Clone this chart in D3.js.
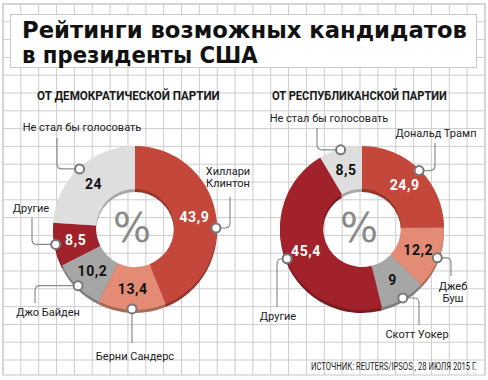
<!DOCTYPE html>
<html>
<head>
<meta charset="utf-8">
<script src="https://cdn.jsdelivr.net/npm/d3@7"></script>
<style>
  body { margin: 0; background: #fff; }
  text { font-family: Roboto, "Liberation Sans", sans-serif; }
</style>
</head>
<body>
<div id="chart"></div>
<script>
// data
const demCategories = ["Хиллари Клинтон", "Берни Сандерс", "Джо Байден", "Другие", "Не стал бы голосовать"];
const demValues = [43.9, 13.4, 10.2, 8.5, 24];
const repCategories = ["Дональд Трамп", "Джеб Буш", "Скотт Уокер", "Другие", "Не стал бы голосовать"];
const repValues = [24.9, 12.2, 9, 45.4, 8.5];
const titleLines = ["Рейтинги возможных кандидатов", "в президенты США"];
const partyTitles = ["ОТ ДЕМОКРАТИЧЕСКОЙ ПАРТИИ", "ОТ РЕСПУБЛИКАНСКОЙ ПАРТИИ"];
const sourceText = "ИСТОЧНИК: REUTERS/IPSOS , 28 ИЮЛЯ 2015 Г.";

const sliceColors = ["#c4473b", "#e38b74", "#a6a6a6", "#a1222a", "#dedede"];
const valueColors = ["#fff", "#111", "#111", "#fff", "#111"];

// callout layout (leader corner x, leader end y, label position)
const demCallouts = [
  {angle: 90, hx: 230, vy: 197, lx: 228, ly: 175, wrap: true},
  {hx: null, vy: 343, lx: 135, ly: 360},
  {hx: 35, vy: 303, lx: 48, ly: 316},
  {hx: 32, vy: 218, lx: 31, ly: 212},
  {hx: 57, vy: 138, lx: 82, ly: 131}
];
const repCallouts = [
  {hx: 435, vy: 143, lx: 436, ly: 137},
  {hx: 451, vy: 276, lx: 453, ly: 290, wrap: true},
  {hx: 419, vy: 325, lx: 417, ly: 338},
  {hx: 277, vy: 307, lx: 278, ly: 320},
  {hx: 317, vy: 128, lx: 329, ly: 122}
];

const width = 488, height = 380;
const rOuter = 82, rInner = 39;

const svg = d3.select("#chart").append("svg")
    .attr("width", width)
    .attr("height", height);

// squeeze a text horizontally so it spans `w` pixels from x (anchor start)
function fitWidth(sel, x, y, w) {
  const natural = sel.node().getComputedTextLength();
  sel.attr("transform", `translate(${x},${y}) scale(${w / natural},1)`);
}

// background grid
const frame = {x: 3, y: 4, w: 482, h: 371};
const grid = svg.append("g").attr("stroke", "#cdcdcd").attr("stroke-width", 1);
grid.selectAll(".v")
    .data(d3.range(frame.x, frame.x + frame.w, 17.85))
    .enter().append("line")
    .attr("x1", d => d).attr("x2", d => d)
    .attr("y1", frame.y).attr("y2", frame.y + frame.h);
grid.selectAll(".h")
    .data(d3.range(frame.y, frame.y + frame.h, 17.8))
    .enter().append("line")
    .attr("y1", d => d).attr("y2", d => d)
    .attr("x1", frame.x).attr("x2", frame.x + frame.w);
svg.append("rect")
    .attr("x", frame.x).attr("y", frame.y)
    .attr("width", frame.w).attr("height", frame.h)
    .attr("fill", "none").attr("stroke", "#c4c4c4");

// title box
svg.append("rect")
    .attr("x", 10.5).attr("y", 14.5)
    .attr("width", 466).attr("height", 53)
    .attr("fill", "#fff").attr("stroke", "#c8c8c8");
titleLines.forEach((t, i) => {
  const el = svg.append("text")
      .style("font-family", "'DejaVu Sans', sans-serif")
      .style("font-size", "23px")
      .style("font-weight", "bold")
      .attr("fill", "#111")
      .text(t);
  fitWidth(el, 22, 38 + i * 25, i === 0 ? 445 : 236);
});

const fmt = v => d3.format("")(v).replace(".", ",");

function drawDonut(categories, values, callouts, cx, cy, title, titleX, titleW) {
  const head = svg.append("text")
      .style("font-size", "12.5px")
      .style("font-weight", "bold")
      .attr("fill", "#1a1a1a")
      .text(title);
  fitWidth(head, titleX, 100, titleW);

  const pie = d3.pie().sort(null).value(d => d)(values);
  const arc = d3.arc().innerRadius(rInner).outerRadius(rOuter);

  // darker rim, shifted down for the 3d look
  svg.append("g")
      .attr("transform", `translate(${cx},${cy + 3})`)
    .selectAll("path")
      .data(pie)
      .enter().append("path")
      .attr("d", arc)
      .attr("fill", (d, i) => d3.color(sliceColors[i]).darker(0.8));

  const g = svg.append("g").attr("transform", `translate(${cx},${cy})`);
  g.selectAll(".slice")
      .data(pie)
      .enter().append("path")
      .attr("d", arc)
      .attr("fill", (d, i) => sliceColors[i]);

  g.selectAll(".val")
      .data(pie)
      .enter().append("text")
      .attr("transform", d => `translate(${arc.centroid(d)})`)
      .attr("text-anchor", "middle")
      .attr("dy", "0.36em")
      .style("font-size", "14px")
      .style("font-weight", "bold")
      .style("letter-spacing", "0.6px")
      .attr("fill", (d, i) => valueColors[i])
      .text(d => fmt(d.data));

  g.append("text")
      .attr("x", -3).attr("y", 14)
      .attr("text-anchor", "middle")
      .style("font-family", "'DejaVu Sans', sans-serif")
      .style("font-size", "40px")
      .attr("fill", "#8a8a8a")
      .text("%");

  // callouts
  pie.forEach((d, i) => {
    const c = callouts[i];
    const a = c.angle != null ? c.angle * Math.PI / 180 : (d.startAngle + d.endAngle) / 2;
    const px = cx + (rOuter - 1) * Math.sin(a);
    const py = cy - (rOuter - 1) * Math.cos(a);
    let path;
    if (c.hx == null) {
      path = `M${px},${py}V${c.vy}`;
    } else {
      const sx = Math.sign(c.hx - px), sy = Math.sign(c.vy - py), r = 5;
      path = `M${px},${py}H${c.hx - sx * r}Q${c.hx},${py} ${c.hx},${py + sy * r}V${c.vy}`;
    }
    svg.append("path")
        .attr("d", path)
        .attr("fill", "none")
        .attr("stroke", "#8c8c8c")
        .attr("stroke-width", 1.2);
    svg.append("circle")
        .attr("cx", px).attr("cy", py).attr("r", 4.5)
        .attr("fill", "#fff")
        .attr("stroke", "#777")
        .attr("stroke-width", 2);

    const lines = c.wrap ? categories[i].split(" ") : [categories[i]];
    lines.forEach((t, k) => {
      svg.append("text")
          .attr("x", c.lx)
          .attr("y", c.ly + k * 12)
          .attr("text-anchor", "middle")
          .style("font-size", "11px")
          .attr("fill", "#222")
          .text(t);
    });
  });
}

drawDonut(demCategories, demValues, demCallouts, 135, 228, partyTitles[0], 37, 183);
drawDonut(repCategories, repValues, repCallouts, 362, 228, partyTitles[1], 272, 175);

// source line
const src = svg.append("text")
    .style("font-size", "10px")
    .attr("fill", "#222")
    .text(sourceText);
fitWidth(src, 311, 370, 166);
</script>
</body>
</html>
